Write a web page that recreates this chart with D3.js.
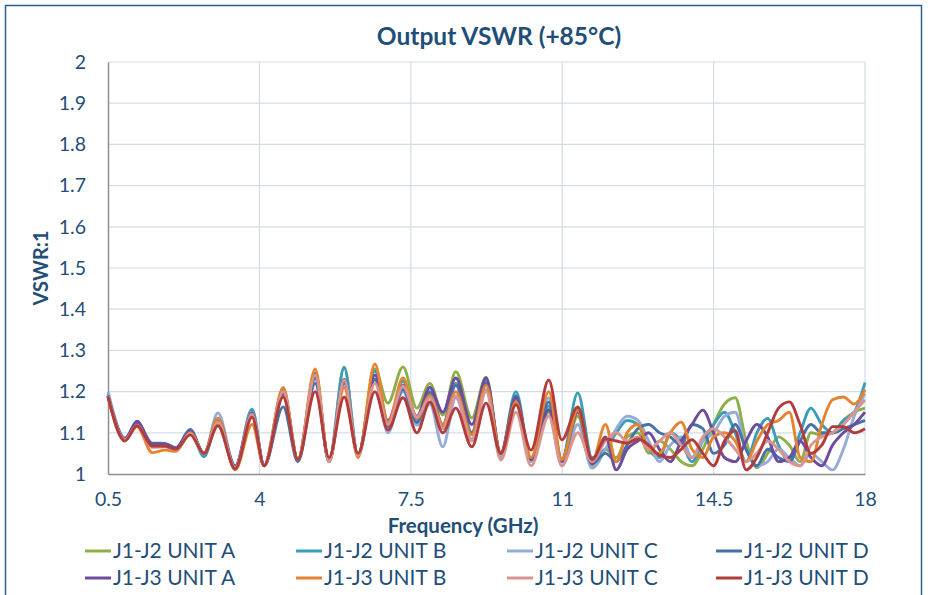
<!DOCTYPE html>
<html>
<head>
<meta charset="utf-8">
<script src="https://cdn.jsdelivr.net/npm/d3@7"></script>
<style>
  body { margin: 0; background: #fff; }
  svg { display: block; }
  text { font-family: Lato, "Open Sans", sans-serif; fill: #1F4E79; }
</style>
</head>
<body>
<div id="chart"></div>
<script>
// frequency points (GHz) - peaks/troughs up to 11.7, then a regular grid
var freq = [0.5, 0.89, 1.17, 1.52, 1.82, 2.07, 2.4, 2.72, 3.04, 3.44, 3.83, 4.11, 4.55, 4.89, 5.29, 5.61, 5.96, 6.28, 6.67, 6.97,
            7.32, 7.64, 7.94, 8.24, 8.54, 8.91, 9.24, 9.58, 9.93, 10.28, 10.69, 10.99, 11.36, 11.69,
            12, 12.25, 12.5, 12.75, 13, 13.25, 13.5, 13.75, 14, 14.25, 14.5, 14.75, 15, 15.25, 15.5, 15.75, 16, 16.25, 16.5, 16.75,
            17, 17.25, 17.5, 17.75, 18];

var j2UnitA = [1.19, 1.085, 1.12, 1.072, 1.07, 1.062, 1.103, 1.05, 1.13, 1.015, 1.155, 1.02, 1.205, 1.035, 1.245, 1.03, 1.26, 1.045, 1.255, 1.172,
               1.26, 1.16, 1.22, 1.143, 1.248, 1.136, 1.235, 1.04, 1.185, 1.03, 1.15, 1.03, 1.14, 1.02,
               1.06, 1.04, 1.09, 1.1, 1.05, 1.08, 1.06, 1.03, 1.02, 1.06, 1.12, 1.17, 1.185, 1.08, 1.015, 1.05, 1.09, 1.07, 1.03, 1.1,
               1.095, 1.1, 1.13, 1.15, 1.16];
var j2UnitB = [1.195, 1.085, 1.12, 1.072, 1.07, 1.062, 1.105, 1.042, 1.13, 1.015, 1.157, 1.02, 1.205, 1.035, 1.245, 1.03, 1.258, 1.045, 1.25, 1.12,
               1.225, 1.13, 1.195, 1.115, 1.22, 1.1, 1.225, 1.05, 1.2, 1.034, 1.165, 1.034, 1.197, 1.04,
               1.06, 1.1, 1.13, 1.12, 1.06, 1.04, 1.1, 1.08, 1.03, 1.08, 1.12, 1.15, 1.1, 1.03, 1.1, 1.135, 1.07, 1.03, 1.1, 1.16,
               1.12, 1.1, 1.13, 1.15, 1.222];
var j2UnitC = [1.2, 1.088, 1.122, 1.072, 1.07, 1.062, 1.1, 1.05, 1.148, 1.018, 1.15, 1.022, 1.19, 1.035, 1.23, 1.032, 1.225, 1.045, 1.23, 1.1,
               1.2, 1.118, 1.17, 1.066, 1.185, 1.085, 1.205, 1.045, 1.18, 1.03, 1.185, 1.02, 1.12, 1.014,
               1.06, 1.11, 1.14, 1.13, 1.08, 1.03, 1.07, 1.09, 1.04, 1.08, 1.1, 1.14, 1.15, 1.06, 1.02, 1.03, 1.06, 1.04, 1.02, 1.05,
               1.03, 1.01, 1.06, 1.14, 1.195];
var j2UnitD = [1.19, 1.085, 1.125, 1.075, 1.074, 1.064, 1.108, 1.05, 1.125, 1.02, 1.145, 1.02, 1.163, 1.03, 1.22, 1.03, 1.22, 1.045, 1.23, 1.115,
               1.205, 1.125, 1.2, 1.12, 1.215, 1.1, 1.22, 1.05, 1.19, 1.035, 1.175, 1.035, 1.16, 1.025,
               1.05, 1.03, 1.07, 1.11, 1.12, 1.1, 1.09, 1.07, 1.12, 1.11, 1.05, 1.07, 1.12, 1.06, 1.02, 1.06, 1.04, 1.03, 1.08, 1.12,
               1.1, 1.1, 1.11, 1.12, 1.13];
var j3UnitA = [1.19, 1.085, 1.128, 1.072, 1.072, 1.062, 1.103, 1.05, 1.135, 1.015, 1.148, 1.02, 1.195, 1.035, 1.235, 1.03, 1.23, 1.045, 1.24, 1.13,
               1.215, 1.14, 1.21, 1.15, 1.233, 1.12, 1.233, 1.05, 1.185, 1.035, 1.156, 1.03, 1.15, 1.025,
               1.09, 1.01, 1.06, 1.08, 1.1, 1.06, 1.03, 1.08, 1.12, 1.155, 1.1, 1.04, 1.03, 1.08, 1.12, 1.09, 1.03, 1.04, 1.08, 1.04,
               1.02, 1.07, 1.1, 1.12, 1.15];
var j3UnitB = [1.188, 1.083, 1.115, 1.052, 1.058, 1.055, 1.1, 1.05, 1.135, 1.01, 1.12, 1.02, 1.21, 1.035, 1.255, 1.03, 1.21, 1.04, 1.267, 1.125,
               1.233, 1.135, 1.19, 1.12, 1.2, 1.095, 1.215, 1.05, 1.175, 1.04, 1.2, 1.035, 1.155, 1.03,
               1.12, 1.03, 1.1, 1.12, 1.06, 1.05, 1.1, 1.126, 1.06, 1.04, 1.09, 1.1, 1.08, 1.03, 1.08, 1.12, 1.13, 1.15, 1.04, 1.03,
               1.12, 1.18, 1.187, 1.17, 1.205];
var j3UnitC = [1.188, 1.083, 1.118, 1.065, 1.066, 1.058, 1.098, 1.05, 1.125, 1.015, 1.145, 1.02, 1.2, 1.035, 1.24, 1.03, 1.228, 1.045, 1.22, 1.12,
               1.213, 1.138, 1.185, 1.11, 1.19, 1.08, 1.2, 1.034, 1.15, 1.02, 1.14, 1.02, 1.1, 1.03,
               1.08, 1.1, 1.08, 1.09, 1.06, 1.08, 1.1, 1.07, 1.04, 1.09, 1.11, 1.09, 1.06, 1.03, 1.05, 1.08, 1.06, 1.03, 1.02, 1.07,
               1.09, 1.1, 1.12, 1.15, 1.18];
var j3UnitD = [1.187, 1.08, 1.117, 1.068, 1.068, 1.06, 1.095, 1.05, 1.117, 1.012, 1.138, 1.02, 1.187, 1.035, 1.2, 1.04, 1.187, 1.05, 1.2, 1.107,
               1.185, 1.1, 1.175, 1.1, 1.16, 1.066, 1.172, 1.05, 1.168, 1.058, 1.228, 1.083, 1.163, 1.035,
               1.085, 1.08, 1.075, 1.085, 1.07, 1.045, 1.04, 1.06, 1.083, 1.05, 1.02, 1.08, 1.105, 1.01, 1.04, 1.1, 1.16, 1.175, 1.12, 1.05,
               1.07, 1.115, 1.115, 1.1, 1.11];

var seriesNames = ["J1-J2 UNIT A", "J1-J2 UNIT B", "J1-J2 UNIT C", "J1-J2 UNIT D",
                   "J1-J3 UNIT A", "J1-J3 UNIT B", "J1-J3 UNIT C", "J1-J3 UNIT D"];
var seriesValues = [j2UnitA, j2UnitB, j2UnitC, j2UnitD, j3UnitA, j3UnitB, j3UnitC, j3UnitD];
var seriesColors = ["#8DAF4A", "#3A9DB8", "#95ABD8", "#4572AA", "#6E4C9C", "#E5832F", "#D99592", "#B23C3A"];

var xTicks = [0.5, 4, 7.5, 11, 14.5, 18];
var yTicks = [1, 1.1, 1.2, 1.3, 1.4, 1.5, 1.6, 1.7, 1.8, 1.9, 2];

var width = 930, height = 595;
var margin = {left: 108, right: 65, top: 62, bottom: 121};

var svg = d3.select("#chart").append("svg")
  .attr("width", width)
  .attr("height", height);

// outer chart border
svg.append("rect")
  .attr("x", 5.5).attr("y", 5.5)
  .attr("width", 916).attr("height", 600)
  .attr("fill", "none")
  .attr("stroke", "#2B5F92")
  .attr("stroke-width", 1.5);

var x = d3.scaleLinear().domain([0.5, 18]).range([margin.left, width - margin.right]);
var y = d3.scaleLinear().domain([1, 2]).range([height - margin.bottom, margin.top]);

// grid
var grid = svg.append("g");
grid.selectAll(".hg").data(yTicks.slice(1)).enter().append("line")
  .attr("x1", x(0.5)).attr("x2", x(18))
  .attr("y1", function(d) { return y(d); }).attr("y2", function(d) { return y(d); })
  .attr("stroke", "#D3DCE6").attr("stroke-width", 1.2);
grid.selectAll(".vg").data(xTicks.slice(1)).enter().append("line")
  .attr("y1", y(1)).attr("y2", y(2))
  .attr("x1", function(d) { return x(d); }).attr("x2", function(d) { return x(d); })
  .attr("stroke", "#D3DCE6").attr("stroke-width", 1.2);

// axes
var xAxis = svg.append("g")
  .attr("transform", "translate(0," + y(1) + ")")
  .call(d3.axisBottom(x).tickValues(xTicks).tickSize(0).tickPadding(18).tickFormat(d3.format("")));
var yAxis = svg.append("g")
  .attr("transform", "translate(" + x(0.5) + ",0)")
  .call(d3.axisLeft(y).tickValues(yTicks).tickSize(0).tickPadding(22).tickFormat(d3.format("")));
[xAxis, yAxis].forEach(function(a) {
  a.select(".domain").attr("stroke", "#8E8E8E").attr("stroke-width", 1.5);
  a.selectAll("text").attr("font-size", "19.5px").attr("fill", "#1F4E79").attr("font-family", "Lato, sans-serif");
});

// lines
var line = d3.line()
  .x(function(d) { return x(d[0]); })
  .y(function(d) { return y(d[1]); })
  .curve(d3.curveMonotoneX);

svg.append("g").selectAll("path")
  .data(seriesValues)
  .enter().append("path")
  .attr("d", function(vals) { return line(vals.map(function(v, i) { return [freq[i], v]; })); })
  .attr("fill", "none")
  .attr("stroke", function(d, i) { return seriesColors[i]; })
  .attr("stroke-width", 2.9)
  .attr("stroke-linejoin", "round");

// titles
svg.append("text")
  .attr("x", 499).attr("y", 45)
  .attr("text-anchor", "middle")
  .attr("font-size", "24.5px").attr("font-weight", "bold")
  .text("Output VSWR (+85°C)");

svg.append("text")
  .attr("x", 463).attr("y", 533)
  .attr("text-anchor", "middle")
  .attr("font-size", "20.5px").attr("font-weight", "bold")
  .text("Frequency (GHz)");

svg.append("text")
  .attr("transform", "translate(48," + ((y(1) + y(2)) / 2) + ") rotate(-90)")
  .attr("text-anchor", "middle")
  .attr("font-size", "20px").attr("font-weight", "bold")
  .text("VSWR:1");

// legend
var legendCols = [85, 296, 507, 716];
var legendRows = [551, 578];
var legend = svg.append("g").selectAll("g")
  .data(seriesNames)
  .enter().append("g")
  .attr("transform", function(d, i) {
    return "translate(" + legendCols[i % 4] + "," + legendRows[Math.floor(i / 4)] + ")";
  });
legend.append("line")
  .attr("x1", 0).attr("x2", 26)
  .attr("stroke", function(d, i) { return seriesColors[i]; })
  .attr("stroke-width", 3);
legend.append("text")
  .attr("x", 28).attr("dy", "0.35em")
  .attr("font-size", "21px")
  .text(function(d) { return d; });
</script>
</body>
</html>
